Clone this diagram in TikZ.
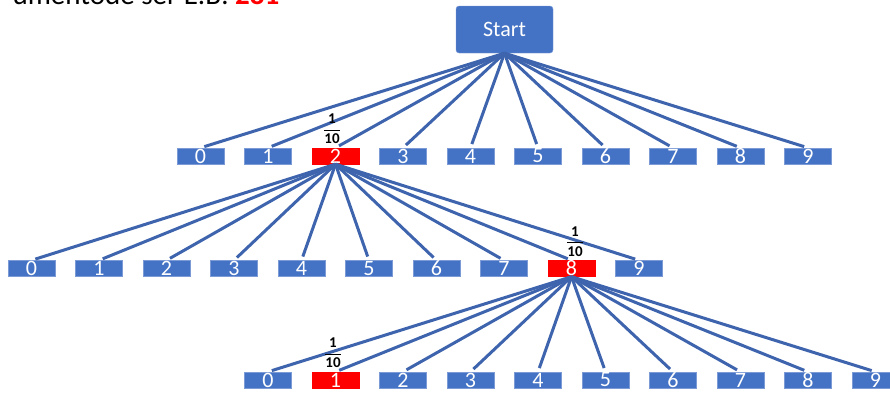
\documentclass[tikz,border=0pt]{standalone}
\usepackage{fontspec}
\setmainfont{Carlito}
\usepackage{amsmath}
\usetikzlibrary{positioning}
\definecolor{boxblue}{HTML}{4472C4}
\definecolor{edgeblue}{HTML}{3E64AE}
\definecolor{boxred}{HTML}{FF0000}
\definecolor{rimblue}{HTML}{7C9BD6}
\tikzset{
  digit/.style={rectangle, minimum width=47pt, minimum height=16pt, inner sep=0pt,
    fill=boxblue, draw=rimblue, line width=0.4pt, text=white,
    font=\fontsize{22}{22}\selectfont},
  chosen/.style={digit, fill=boxred, draw=boxred},
  startbox/.style={rectangle, rounded corners=3pt, minimum width=97pt, minimum height=47pt,
    inner sep=0pt, fill=boxblue, draw=rimblue, line width=0.4pt, text=white,
    font=\fontsize{22}{22}\selectfont},
  edge/.style={draw=edgeblue, line width=3pt, shorten >=4pt},
  prob/.style={inner sep=0pt, font=\fontsize{15}{15}\selectfont}
}
\begin{document}
\begin{tikzpicture}[x=1pt,y=-1pt]
\useasboundingbox (0,0) rectangle (890,394);
\begin{scope}
\clip (0,0) rectangle (890,394);
\node[anchor=base east, inner sep=0pt, font=\fontsize{29}{29}\selectfont] (title) at (229,4) {umentode ser E.B:};
\node[anchor=base west, inner sep=0pt, text=boxred, font=\fontsize{29}{29}\selectfont\bfseries] (titlered) at (235,4) {281};

\node[startbox] (start) at (504.5,29.5) {Start};

% row 1
\foreach \i in {0,...,9} {
  \pgfmathsetmacro{\cx}{200.5+67.5*\i}
  \ifnum\i=2
    \node[chosen] (a\i) at (\cx,156) {\i};
  \else
    \node[digit] (a\i) at (\cx,156) {\i};
  \fi
}
% row 2
\foreach \i in {0,...,9} {
  \pgfmathsetmacro{\cx}{31.5+67.5*\i}
  \ifnum\i=8
    \node[chosen] (b\i) at (\cx,268.5) {\i};
  \else
    \node[digit] (b\i) at (\cx,268.5) {\i};
  \fi
}
% row 3
\foreach \i in {0,...,9} {
  \pgfmathsetmacro{\cx}{268+67.5*\i}
  \ifnum\i=1
    \node[chosen] (c\i) at (\cx,380) {\i};
  \else
    \node[digit] (c\i) at (\cx,380) {\i};
  \fi
}

\foreach \i in {0,...,9} {
  \draw[edge] (start.south) -- (a\i.north);
  \draw[edge] (a2.south) -- (b\i.north);
  \draw[edge] (b8.south) -- (c\i.north);
}

\node[prob, anchor=south] (p1) at ([xshift=-3.5pt,yshift=4pt]a2.north) {$\dfrac{\mathbf{1}}{\mathbf{10}}$};
\node[prob, anchor=south] (p2) at ([xshift=3.5pt,yshift=4pt]b8.north) {$\dfrac{\mathbf{1}}{\mathbf{10}}$};
\node[prob, anchor=south] (p3) at ([xshift=-2.5pt,yshift=4pt]c1.north) {$\dfrac{\mathbf{1}}{\mathbf{10}}$};
\end{scope}
\end{tikzpicture}
\end{document}
